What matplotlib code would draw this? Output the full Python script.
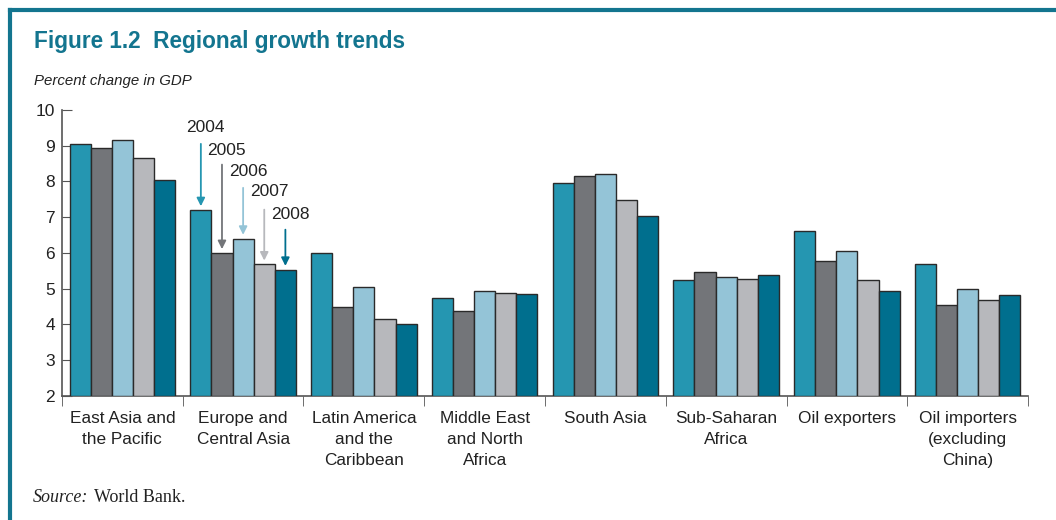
import numpy as np
import matplotlib.pyplot as plt
from matplotlib.lines import Line2D

plt.rcParams['font.family'] = ['Liberation Sans', 'DejaVu Sans']

regions = ["East Asia and\nthe Pacific", "Europe and\nCentral Asia", "Latin America\nand the\nCaribbean",
           "Middle East\nand North\nAfrica", "South Asia", "Sub-Saharan\nAfrica", "Oil exporters",
           "Oil importers\n(excluding\nChina)"]
years = ["2004", "2005", "2006", "2007", "2008"]
g2004 = [9.05, 7.2, 6.0, 4.75, 7.97, 5.25, 6.62, 5.7]
g2005 = [8.95, 6.0, 4.5, 4.38, 8.15, 5.48, 5.78, 4.55]
g2006 = [9.15, 6.4, 5.05, 4.93, 8.22, 5.33, 6.05, 5.0]
g2007 = [8.65, 5.68, 4.15, 4.88, 7.47, 5.28, 5.25, 4.68]
g2008 = [8.05, 5.53, 4.0, 4.85, 7.03, 5.38, 4.93, 4.83]
series = [g2004, g2005, g2006, g2007, g2008]
colors = ["#2596b1", "#737579", "#94c4d7", "#b7b8bc", "#006f8e"]
teal = "#13758f"

fig = plt.figure(figsize=(10.56, 5.2), dpi=100)
ax = fig.add_axes([0.0587, 0.2385, 0.9148, 0.55])

x = np.arange(len(regions))
w = 0.175
for j, vals in enumerate(series):
    ax.bar(x + (j - 2) * w, np.array(vals) - 2, bottom=2, width=w, color=colors[j],
           edgecolor="#2a2a2a", linewidth=1.0, zorder=3)

ax.set_xlim(-0.5, 7.5)
ax.set_ylim(2, 10)
ax.set_yticks(range(2, 11))
ax.tick_params(axis='y', direction='in', length=7, color="#555555", labelsize=12.5, labelcolor="#222222", pad=5)
ax.set_xticks(x)
ax.set_xticklabels(regions, fontsize=12.4, color="#222222", linespacing=1.5)
ax.tick_params(axis='x', length=0, pad=11)
ax.set_xticks(np.arange(-0.5, 8, 1), minor=True)
ax.tick_params(axis='x', which='minor', direction='out', length=7, color="#555555")
for s in ['top', 'right']:
    ax.spines[s].set_visible(False)
ax.spines['left'].set_color("#555555")
ax.spines['bottom'].set_color("#555555")
ax.spines['left'].set_linewidth(1.2)
ax.spines['bottom'].set_linewidth(1.2)

# year call-outs on the Europe group
starts = [9.13, 8.55, 7.9, 7.29, 6.73]
label_y = [9.5, 8.88, 8.29, 7.71, 7.09]
for j in range(5):
    bx = 1 + (j - 2) * w
    top = series[j][1]
    ax.annotate('', xy=(bx, top + 0.03), xytext=(bx, starts[j]),
                arrowprops=dict(arrowstyle='-|>', color=colors[j], lw=1.3, mutation_scale=12), zorder=4)
    ax.text(bx + 0.04, label_y[j], years[j], ha='center', va='center', fontsize=12.5, color="#222222")

# frame, title and notes
fig.add_artist(Line2D([0.0095, 1], [0.981, 0.981], color=teal, lw=3, transform=fig.transFigure))
fig.add_artist(Line2D([0.0095, 0.0095], [0, 0.981], color=teal, lw=3, transform=fig.transFigure))
fig.text(0.032, 0.921, "Figure 1.2  Regional growth trends", fontsize=16.3, fontweight='bold',
         color=teal, va='center')
fig.text(0.032, 0.844, "Percent change in GDP", fontsize=10.8, style='italic', color="#222222", va='center')
fig.text(0.031, 0.044, "Source:", fontsize=13, style='italic', family='Liberation Serif',
         color="#222222", va='center')
fig.text(0.089, 0.044, "World Bank.", fontsize=13, family='Liberation Serif', color="#222222", va='center')

fig.savefig("out.png", dpi=100)
